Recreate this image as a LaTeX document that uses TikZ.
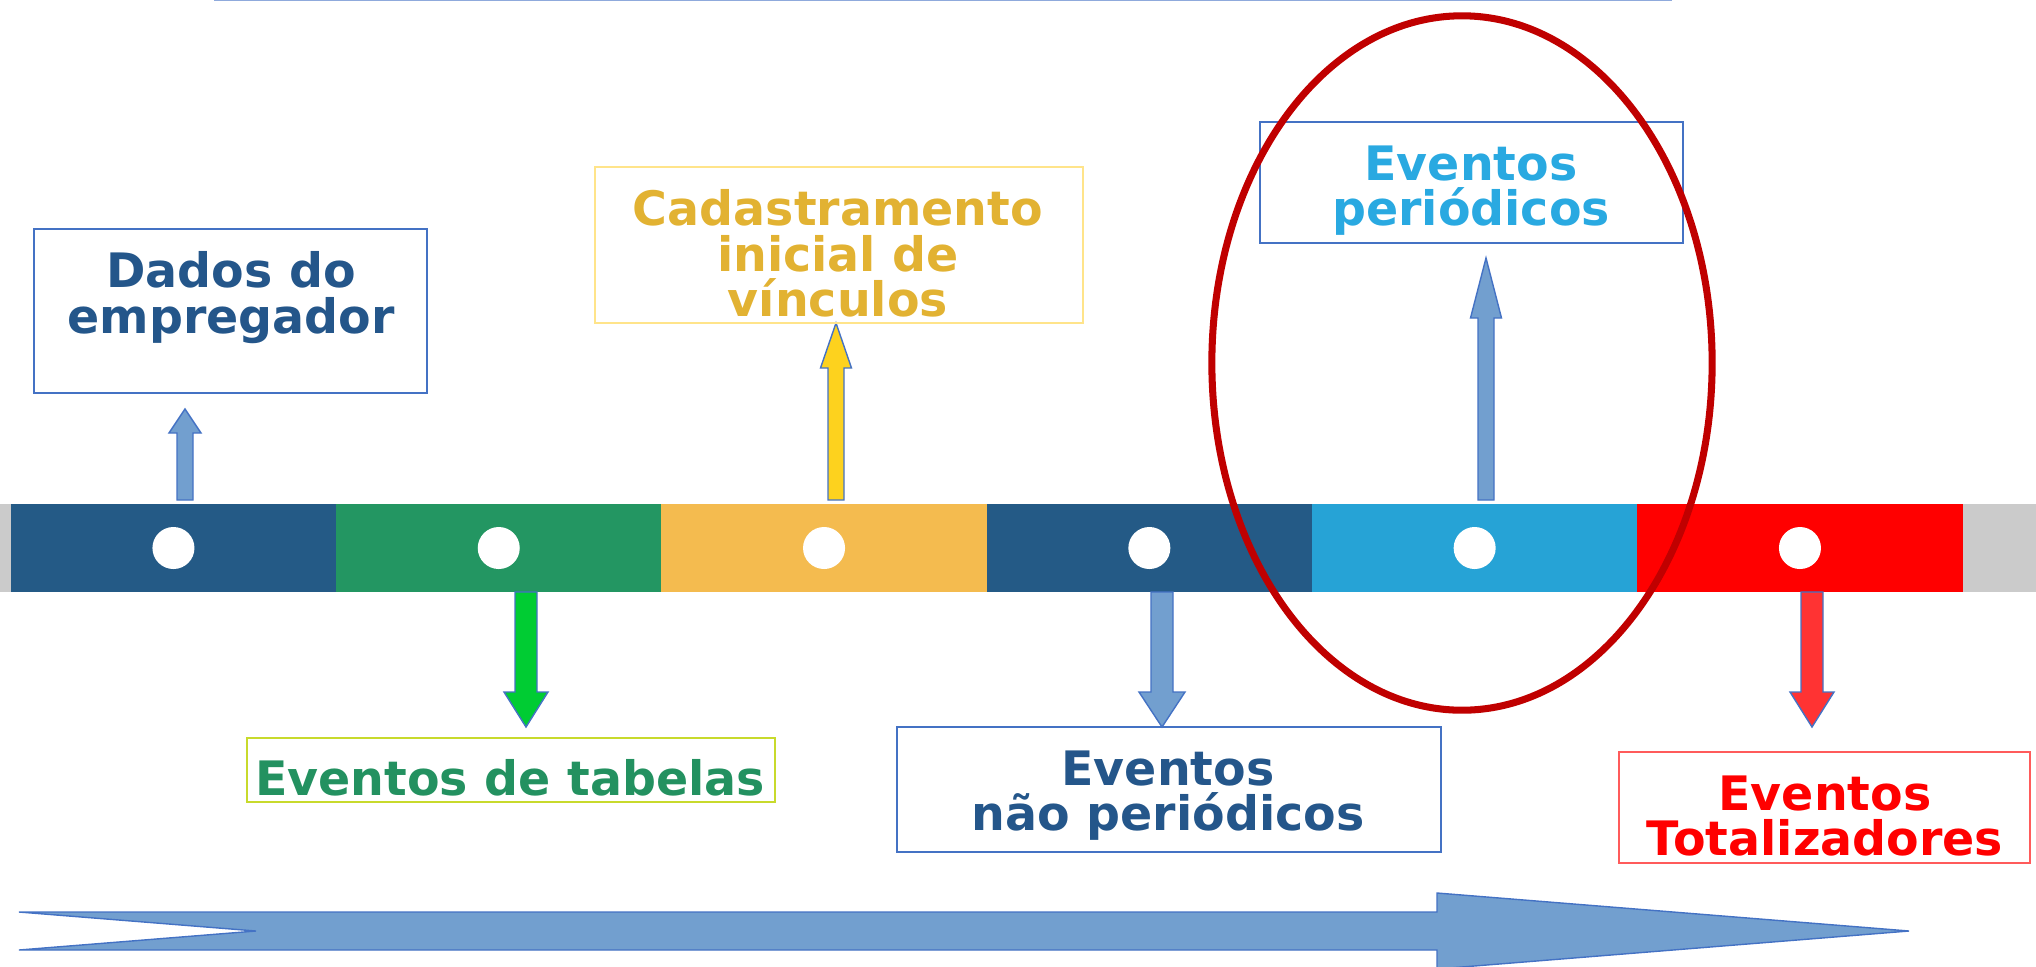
\documentclass[tikz,border=0pt]{standalone}
\usepackage{fontspec}
\setmainfont{DejaVu Sans}
\usepackage{xcolor}
\usepackage{tikz}
\usetikzlibrary{positioning,calc}
\definecolor{segdark}{HTML}{245A86}
\definecolor{seggreen}{HTML}{239662}
\definecolor{segorange}{HTML}{F4BB4F}
\definecolor{seglight}{HTML}{26A3D6}
\definecolor{segred}{HTML}{FF0000}
\definecolor{seggray}{HTML}{CBCBCB}
\definecolor{arrblue}{HTML}{729FCF}
\definecolor{arrgreen}{HTML}{00CC33}
\definecolor{arryellow}{HTML}{FDD21E}
\definecolor{arrred}{HTML}{FF3333}
\definecolor{edgeblue}{HTML}{4472C4}
\definecolor{edgeyellow}{HTML}{FFE48A}
\definecolor{edgelime}{HTML}{C8DA2C}
\definecolor{edgered}{HTML}{FF5B5B}
\definecolor{txtdark}{HTML}{24568A}
\definecolor{txtgold}{HTML}{E2B232}
\definecolor{txtlight}{HTML}{29A9E1}
\definecolor{txtgreen}{HTML}{239160}
\definecolor{ringred}{HTML}{C00000}
\tikzset{
seg/.style={
minimum width=3.253cm,
minimum height=0.88cm,
inner sep=0pt,
anchor=west
},
dot/.style={
circle,
fill=white,
minimum size=0.42cm,
inner sep=0pt
},
frame/.style={
draw,
line width=0.4pt,
inner sep=0pt
},
boxtext/.style={
font=\fontsize{13.5}{12.9}\selectfont\bfseries,
align=center,
inner sep=0pt,
anchor=north
},
blockarrow/.style={
draw=edgeblue,
line width=0.4pt
}
}
\begin{document}
\begin{tikzpicture}[x=0.01cm,y=-0.01cm]
\useasboundingbox (0,0) rectangle (2036,966);

% timeline bar
\fill[seggray] (0,504) rectangle (2036,592);
\foreach \c [count=\i] in {segdark,seggreen,segorange,segdark,seglight,segred}{
\node[seg,fill=\c](s\i) at ({10+(\i-1)*325.3},548){};
\node[dot](d\i) at (s\i.center){};
}

% arrows between bar and boxes
\foreach \ax/\ya/\yh/\yb/\sw/\hw/\col in {185/500/433/409/8/16/arrblue,526/592/692/727/11/22/arrgreen,836/500/368/323/8/15.5/arryellow,1162/592/692/727/11/23/arrblue,1486/500/318/258/8/15.5/arrblue,1812/592/692/727/11/22/arrred}
\filldraw[blockarrow,fill=\col](\ax-\sw,\ya)--(\ax-\sw,\yh)--(\ax-\hw,\yh)--(\ax,\yb)--(\ax+\hw,\yh)--(\ax+\sw,\yh)--(\ax+\sw,\ya)--cycle;

% boxes
\node[frame,draw=edgeblue,minimum width=3.93cm,minimum height=1.64cm](bdados) at (230.5,311){};
\node[frame,draw=edgeyellow,minimum width=4.88cm,minimum height=1.56cm](bcad) at (839,245){};
\node[frame,draw=edgeblue,minimum width=4.23cm,minimum height=1.21cm](bper) at (1471.5,182.5){};
\node[frame,draw=edgelime,minimum width=5.28cm,minimum height=0.64cm](btab) at (511,770){};
\node[frame,draw=edgeblue,minimum width=5.44cm,minimum height=1.25cm](bnper) at (1169,789.5){};
\node[frame,draw=edgered,minimum width=4.11cm,minimum height=1.11cm](btot) at (1824.5,807.5){};

\node[boxtext,text=txtdark](tdados) at (231,251){Dados do\\empregador};
\node[boxtext,text=txtgold](tcad) at (838,189){Cadastramento\\inicial de\\vínculos};
\node[boxtext,text=txtlight](tper) at (1471,145){Eventos\\periódicos};
\node[boxtext,text=txtgreen](ttab) at (510,759){Eventos de tabelas};
\node[boxtext,text=txtdark](tnper) at (1168,750){Eventos\\não periódicos};
\node[boxtext,text=segred](ttot) at (1825,775){Eventos\\Totalizadores};

% highlight
\draw[ringred,line width=2pt](1462,363) ellipse [x radius=2.5cm,y radius=3.47cm];

% direction arrow
\filldraw[blockarrow,fill=arrblue](19,912)--(1437,912)--(1437,893)--(1909,931)--(1437,969)--(1437,950)--(19,950)--(256,931)--cycle;
\draw[edgeblue!60,line width=0.4pt](214,0.5)--(1672,0.5);
\end{tikzpicture}
\end{document}
